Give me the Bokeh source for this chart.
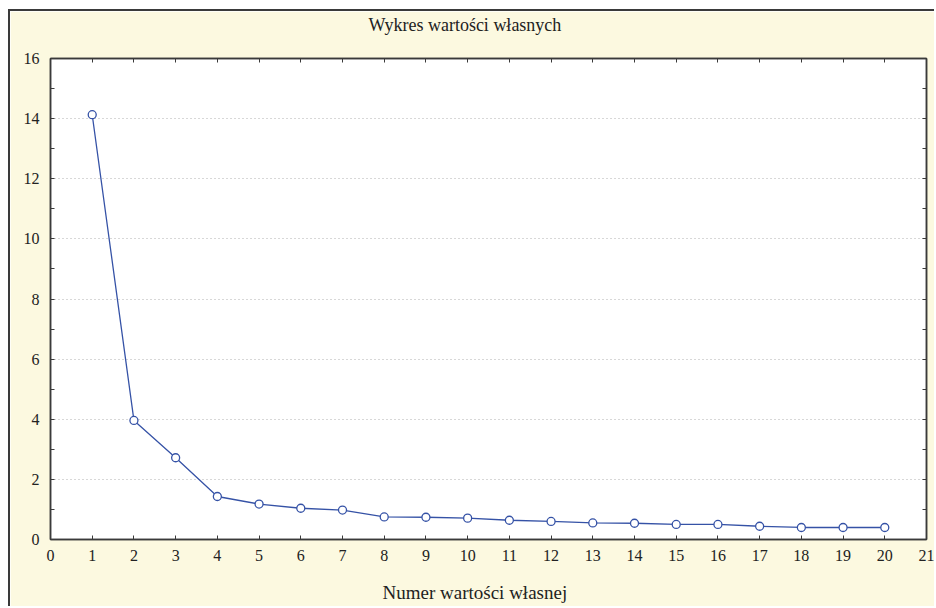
from bokeh.plotting import figure
from bokeh.models import LinearAxis, FixedTicker, Title, Range1d, CustomLabelingPolicy
from bokeh.embed import file_html
from bokeh.resources import INLINE

numer = list(range(1, 21))
wartosci = [14.13, 3.96, 2.72, 1.43, 1.18, 1.04, 0.98, 0.75, 0.74, 0.71,
            0.64, 0.60, 0.55, 0.54, 0.50, 0.50, 0.44, 0.40, 0.40, 0.40]
x_ticks = list(range(0, 22))
y_ticks = list(range(0, 17, 2))
y_minor = list(range(1, 16, 2))

FONT = "Liberation Serif"
BEIGE = "#FCF9E0"
DARK = "#3a3a3a"
BLUE = "#3552A6"

p = figure(width=926, height=597, output_backend="svg", toolbar_location=None,
           x_range=Range1d(0, 21), y_range=Range1d(0, 16),
           x_axis_location=None, y_axis_location=None,
           min_border_left=40, min_border_right=10, min_border_top=47, min_border_bottom=69)
p.background_fill_color = "white"
p.border_fill_color = BEIGE
p.outline_line_color = DARK
p.outline_line_width = 1.5
p.styles = {"margin-left": "8px", "margin-top": "9px",
            "border-top": "2px solid #3a3a3a", "border-left": "2px solid #3a3a3a"}

hide_all = CustomLabelingPolicy(code="""
    for (const i of indices) { indices.unset(i) }
    return indices
""")

def style_axis(ax, ticks, minor, labels=True):
    ax.ticker = FixedTicker(ticks=ticks, minor_ticks=minor)
    ax.axis_line_color = DARK
    ax.axis_line_width = 1.5
    ax.major_tick_in = 4
    ax.major_tick_out = 0
    ax.minor_tick_in = 4
    ax.minor_tick_out = 0
    ax.major_tick_line_color = DARK
    ax.minor_tick_line_color = DARK
    ax.major_label_text_font = FONT
    ax.major_label_text_color = "#222222"
    if labels:
        ax.major_label_text_font_size = "16px"
        ax.major_label_standoff = 11
    else:
        ax.major_label_text_font_size = "1px"
        ax.major_label_standoff = 0
        ax.major_label_policy = hide_all

xb = LinearAxis()
style_axis(xb, x_ticks, [])
xb.major_label_standoff = 10
p.add_layout(xb, "below")
yl = LinearAxis()
style_axis(yl, y_ticks, y_minor)
p.add_layout(yl, "left")
xt = LinearAxis()
style_axis(xt, x_ticks, [], labels=False)
xt.major_label_standoff = 16
p.add_layout(xt, "above")
yr = LinearAxis()
style_axis(yr, y_ticks, y_minor, labels=False)
p.add_layout(yr, "right")

# invisible spacer axis between the bottom axis and the axis title
xs = LinearAxis()
style_axis(xs, x_ticks, [], labels=False)
xs.axis_line_color = None
xs.major_tick_line_color = None
xs.minor_tick_line_color = None
xs.major_label_standoff = 13
p.add_layout(xs, "below")

p.xgrid.visible = False
p.ygrid.ticker = FixedTicker(ticks=y_ticks[1:-1])
p.ygrid.grid_line_color = "#b0b0b0"
p.ygrid.grid_line_dash = "1 3"
p.ygrid.grid_line_width = 1

p.line(numer, wartosci, line_color=BLUE, line_width=1.3)
p.scatter(numer, wartosci, size=8, marker="circle", fill_color="white",
          line_color=BLUE, line_width=1.3)

p.add_layout(Title(text="Wykres wartości własnych", align="left", offset=318,
                   vertical_align="top",
                   text_font=FONT, text_font_size="18px", text_font_style="normal",
                   text_color="#222222", standoff=4), "above")
p.add_layout(Title(text="Numer wartości własnej", align="left", offset=332,
                   vertical_align="top",
                   text_font=FONT, text_font_size="19px", text_font_style="normal",
                   text_color="#222222", standoff=2), "below")

open("out.html", "w").write(file_html(p, INLINE))
